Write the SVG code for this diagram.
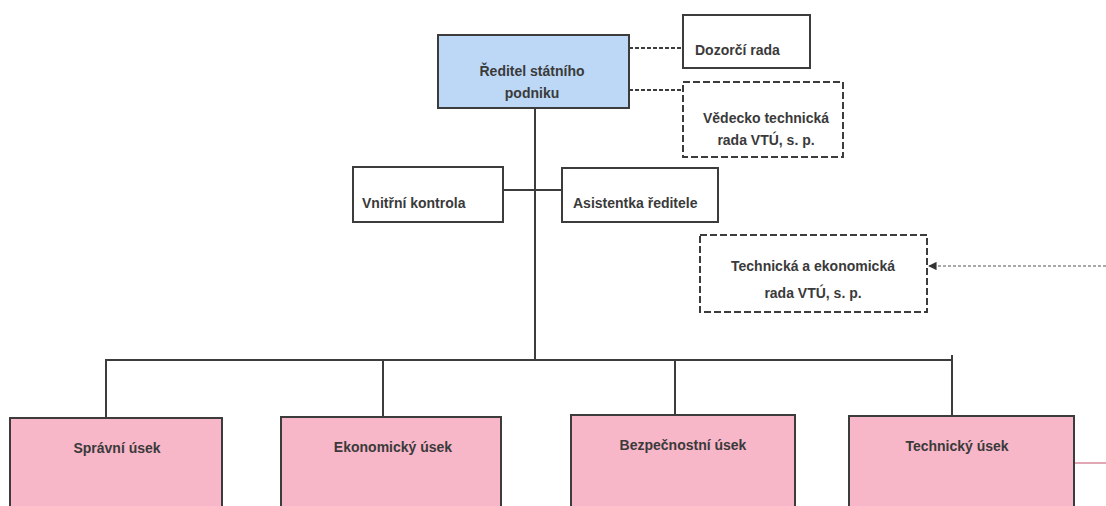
<svg xmlns="http://www.w3.org/2000/svg" width="1106" height="506" viewBox="0 0 1106 506">
<style>
.box{fill:#fff;stroke:#3c3c3c;stroke-width:2}
.dash{fill:#fff;stroke:#3c3c3c;stroke-width:2;stroke-dasharray:7 3}
.blue{fill:#bcd8f6;stroke:#3c3c3c;stroke-width:2}
.pink{fill:#f8b6c9;stroke:#3c3c3c;stroke-width:2}
.t{font-family:"Liberation Sans",Arial,sans-serif;font-size:14px;font-weight:bold;fill:#3a3a3a}
.c{text-anchor:middle}
.ln{stroke:#3c3c3c;stroke-width:2;fill:none}
.dl{stroke:#3c3c3c;stroke-width:2;fill:none;stroke-dasharray:4 2}
.dot{stroke:#555;stroke-width:1.2;fill:none;stroke-dasharray:3 2}
</style>
<defs>
<marker id="ah" viewBox="0 0 10 10" refX="9" refY="5" markerWidth="7" markerHeight="7" orient="auto">
<path d="M0,0 L10,5 L0,10 z" fill="#333"/>
</marker>
</defs>
<rect width="1106" height="506" fill="#fff"/>
<g id="connectors">
<line class="ln" x1="535" y1="108" x2="535" y2="360"/>
<line class="ln" x1="503" y1="190" x2="562" y2="190"/>
<line class="ln" x1="106" y1="360" x2="952" y2="360"/>
<line class="ln" x1="106" y1="359" x2="106" y2="418"/>
<line class="ln" x1="383" y1="360" x2="383" y2="417"/>
<line class="ln" x1="675" y1="360" x2="675" y2="415"/>
<line class="ln" x1="952" y1="355" x2="952" y2="416"/>
<line class="dl" x1="629" y1="48" x2="683" y2="48"/>
<line class="dl" x1="629" y1="90" x2="683" y2="90"/>
<line class="dot" x1="1106" y1="266" x2="929" y2="266" marker-end="url(#ah)"/>
<line x1="1075" y1="463" x2="1106" y2="463" stroke="#d98a9c" stroke-width="1.5"/>
</g>
<g id="reditel">
<rect class="blue" x="438" y="35" width="191" height="73"/>
<text class="t c" x="532" y="76">Ředitel státního</text>
<text class="t c" x="532" y="98">podniku</text>
</g>
<g id="dozorci">
<rect class="box" x="683" y="15" width="127" height="53"/>
<text class="t" x="695" y="55">Dozorčí rada</text>
</g>
<g id="vedecko">
<rect class="dash" x="683" y="82" width="160" height="75"/>
<text class="t c" x="766" y="123">Vědecko technická</text>
<text class="t c" x="766" y="145">rada VTÚ, s. p.</text>
</g>
<g id="vnitrni">
<rect class="box" x="353" y="167" width="150" height="55"/>
<text class="t" x="362" y="208">Vnitřní kontrola</text>
</g>
<g id="asistentka">
<rect class="box" x="562" y="168" width="156" height="54"/>
<text class="t" x="573" y="208">Asistentka ředitele</text>
</g>
<g id="technicka-rada">
<rect class="dash" x="700" y="235" width="227" height="77"/>
<text class="t c" x="813" y="271">Technická a ekonomická</text>
<text class="t c" x="813" y="298">rada VTÚ, s. p.</text>
</g>
<g id="spravni">
<rect class="pink" x="10" y="418" width="212" height="100"/>
<text class="t c" x="117" y="453">Správní úsek</text>
</g>
<g id="ekonomicky">
<rect class="pink" x="281" y="417" width="220" height="100"/>
<text class="t c" x="393" y="452">Ekonomický úsek</text>
</g>
<g id="bezpecnostni">
<rect class="pink" x="571" y="415" width="224" height="100"/>
<text class="t c" x="683" y="450">Bezpečnostní úsek</text>
</g>
<g id="technicky">
<rect class="pink" x="849" y="416" width="225" height="100"/>
<text class="t c" x="957" y="451">Technický úsek</text>
</g>
</svg>
